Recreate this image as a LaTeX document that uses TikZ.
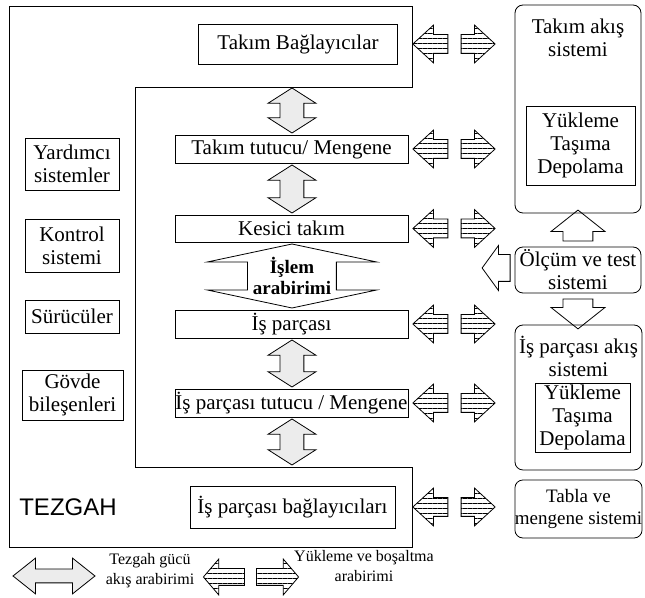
\documentclass[tikz,border=0pt]{standalone}
\usepackage{fontspec}
\setmainfont{Liberation Serif}
\setsansfont{Liberation Sans}
\usepackage{tikz}
\usetikzlibrary{positioning, shapes.arrows, patterns.meta}
\tikzstyle{box} = [rectangle, minimum width=116.5pt, minimum height=14pt, inner sep=0pt, text centered, draw=black]
\tikzstyle{sidebox} = [rectangle, minimum width=47pt, inner sep=0pt, align=center, draw=black]
\tikzstyle{rbox} = [rectangle, rounded corners=4pt, minimum width=63pt, inner sep=0pt, draw=black]
\tikzstyle{inbox} = [rectangle, inner sep=0pt, align=center, draw=black]
\tikzstyle{grayarrow} = [double arrow, draw=black, fill=gray!15, inner xsep=0pt, inner ysep=5.75pt, double arrow head extend=6pt, double arrow tip angle=115, rotate=90]
\tikzstyle{stripe} = [single arrow, draw=black, pattern={Lines[distance=2.5pt, line width=0.4pt]}, inner xsep=0pt, inner ysep=4.5pt, single arrow head extend=4.75pt, single arrow tip angle=85]
\tikzstyle{hollow} = [single arrow, draw=black, fill=white, inner xsep=0pt]
\def\sxl{435.5}
\def\sxr{473}

\begin{document}
\begin{tikzpicture}[x=0.5pt, y=-0.5pt, font=\fontsize{10.5}{11.5}\selectfont]
\useasboundingbox (0,0) rectangle (645,598);

% tezgah frame
\draw (9,6) -- (412,6) -- (412,87) -- (135,87) -- (135,467) -- (412,467) -- (412,547) -- (9,547) -- cycle;
\node (tezgah) at (68,507) {\sffamily\fontsize{12}{14}\selectfont TEZGAH};

\node (tb) [box, minimum width=99.5pt, minimum height=20pt] at (298,44) {Takım Bağlayıcılar};
\node (tt) [box] at (291.5,149) {Takım tutucu/ Mengene};
\node (kt) [box, minimum height=13.5pt] at (291.5,228.5) {Kesici takım};
\node (ip) [box] at (291.5,324) {İş parçası};
\node (ipt) [box] at (291.5,403) {İş parçası tutucu / Mengene};
\node (ipb) [box, minimum width=102.5pt, minimum height=21pt] at (292.5,507) {İş parçası bağlayıcıları};

\node (yard) [sidebox, minimum height=26pt] at (72,164) {Yardımcı\\sistemler};
\node (kont) [sidebox, minimum height=26.5pt] at (72,245.5) {Kontrol\\sistemi};
\node (sur) [sidebox, minimum height=16.5pt] at (72,316.5) {Sürücüler};
\node (govde) [sidebox, minimum width=50.5pt, minimum height=25pt] at (72.5,395) {Gövde\\bileşenleri};

% gray interfaces
\node (ga1) [grayarrow, minimum height=22.5pt] at (292,110.5) {};
\node (ga2) [grayarrow, minimum height=24pt] at (292,189) {};
\node (ga3) [grayarrow, minimum height=23.5pt] at (292,363.5) {};
\node (ga4) [grayarrow, minimum height=23pt] at (292,442) {};

\node (islem) [double arrow, draw=black, inner xsep=0pt, inner ysep=22pt, rotate=90, minimum height=32pt, double arrow head extend=20pt, double arrow tip angle=156] at (292,276) {};
\node (islemtxt) [font=\fontsize{9.5}{10.5}\selectfont\bfseries, align=center] at (292,276) {İşlem\\arabirimi};

% loading interfaces
\node (s1l) [stripe, rotate=180, minimum height=17.5pt] at (\sxl,44) {};
\node (s1r) [stripe, minimum height=17pt] at (\sxr,44) {};
\node (s2l) [stripe, rotate=180, minimum height=17.5pt] at (\sxl,149) {};
\node (s2r) [stripe, minimum height=17pt] at (\sxr,149) {};
\node (s3l) [stripe, rotate=180, minimum height=17.5pt] at (\sxl,228.5) {};
\node (s3r) [stripe, minimum height=17pt] at (\sxr,228.5) {};
\node (s4l) [stripe, rotate=180, minimum height=17.5pt] at (\sxl,324) {};
\node (s4r) [stripe, minimum height=17pt] at (\sxr,324) {};
\node (s5l) [stripe, rotate=180, minimum height=17.5pt] at (\sxl,403) {};
\node (s5r) [stripe, minimum height=17pt] at (\sxr,403) {};
\node (s6l) [stripe, rotate=180, minimum height=17.5pt] at (\sxl,507) {};
\node (s6r) [stripe, minimum height=17pt] at (\sxr,507) {};

% right side systems
\node (ua) [hollow, rotate=90, minimum height=15.5pt, inner ysep=7.25pt, single arrow head extend=6pt, single arrow tip angle=103] at (578,231.5) {};
\node (da) [hollow, rotate=-90, minimum height=15pt, inner ysep=7.25pt, single arrow head extend=6pt, single arrow tip angle=103] at (578,308) {};
\node (la) [hollow, rotate=180, minimum height=14pt, inner ysep=6.5pt, single arrow head extend=4.5pt, single arrow tip angle=108] at (501,268) {};

\node (takim) [rbox, minimum height=104pt] at (578,109) {};
\node (takimtxt) [align=center] at (578,38) {Takım akış\\sistemi};
\node (yuk1) [inbox, minimum width=54.5pt, minimum height=39.5pt] at (580.5,145.5) {Yükleme\\Taşıma\\Depolama};
\node (olcum) [rbox, fill=white, minimum height=23pt, align=center] at (578,270) {Ölçüm ve test\\sistemi};
\node (isakis) [rbox, minimum width=63.5pt, minimum height=72.5pt] at (578.5,397.5) {};
\node (isakistxt) [align=center] at (578.5,356) {İş parçası akış\\sistemi};
\node (yuk2) [inbox, minimum width=47.5pt, minimum height=34.5pt] at (582.5,417.5) {Yükleme\\Taşıma\\Depolama};
\node (tabla) [rbox, minimum width=63.5pt, minimum height=29pt, align=center, font=\fontsize{9.5}{11}\selectfont] at (578.5,509) {Tabla ve\\mengene sistemi};

% legend
\node (lg) [double arrow, draw=black, fill=gray!15, inner xsep=0pt, inner ysep=3.25pt, minimum height=41pt, double arrow head extend=5.5pt, double arrow tip angle=77] at (54,576) {};
\node (lgtxt) [font=\fontsize{8}{10}\selectfont, align=center] at (150,571) {Tezgah gücü\\akış arabirimi};
\node (ls1) [stripe, rotate=180, minimum height=20.5pt, inner ysep=4pt, single arrow tip angle=99] at (227.5,577) {};
\node (ls2) [stripe, minimum height=21pt, inner ysep=4pt, single arrow tip angle=99] at (274,577) {};
\node (lstxt) [font=\fontsize{8}{10}\selectfont, align=center] at (364,566) {Yükleme ve boşaltma\\arabirimi};
\end{tikzpicture}
\end{document}
